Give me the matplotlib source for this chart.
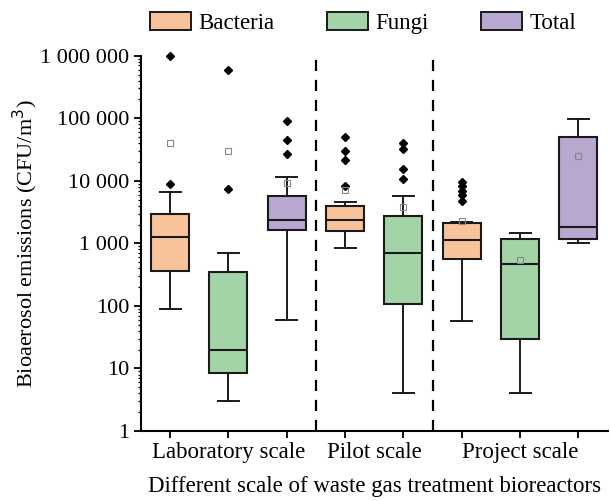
import matplotlib.pyplot as plt
from matplotlib.patches import Patch
from matplotlib.ticker import LogLocator, NullFormatter

plt.rcParams['font.family'] = ['Liberation Serif', 'DejaVu Serif']

# posiciones de las cajas (Pilot no tiene Total)
posiciones = [1, 2, 3, 4, 5, 6, 7, 8]
tipos = ['Bacteria', 'Fungi', 'Total', 'Bacteria', 'Fungi', 'Bacteria', 'Fungi', 'Total']

# estadisticos (CFU/m3)
bigote_inf = [90, 3, 59, 850, 4, 57, 4, 1000]
q1 = [365, 8.5, 1640, 1580, 108, 565, 30, 1180]
mediana = [1260, 20, 2380, 2400, 710, 1140, 475, 1840]
q3 = [3000, 345, 5700, 3900, 2700, 2150, 1170, 50000]
bigote_sup = [6600, 700, 11500, 4600, 5700, 2200, 1440, 98000]
media = [40000, 30000, 9200, 7100, 3800, 2300, 545, 25400]
atipicos = [
    [9000, 1000000],
    [7500, 590000],
    [27000, 45000, 89000],
    [8300, 21500, 29500, 50000],
    [10900, 15600, 32500, 40000],
    [4700, 6000, 7000, 8300, 9700],
    [],
    [],
]

grupos = ['Laboratory scale', 'Pilot scale', 'Project scale']
pos_grupos = [2, 4.5, 7]
separadores = [3.5, 5.5]

colores = {'Bacteria': '#F8C39B', 'Fungi': '#A2D4A8', 'Total': '#B8A7CF'}

fig = plt.figure(figsize=(6.1, 5.01), dpi=100)
ax = fig.add_axes([0.231, 0.1397, 0.765, 0.749])

stats = []
for i in range(len(posiciones)):
    stats.append({'whislo': bigote_inf[i], 'q1': q1[i], 'med': mediana[i],
                  'q3': q3[i], 'whishi': bigote_sup[i], 'mean': media[i],
                  'fliers': atipicos[i]})

bp = ax.bxp(stats, positions=posiciones, widths=0.65, capwidths=0.36,
            patch_artist=True, showmeans=True,
            boxprops=dict(edgecolor='#1a1a1a', linewidth=1.5),
            medianprops=dict(color='#1a1a1a', linewidth=1.5),
            whiskerprops=dict(color='#1a1a1a', linewidth=1.4),
            capprops=dict(color='#1a1a1a', linewidth=1.4),
            flierprops=dict(marker='D', markerfacecolor='black', markeredgecolor='black',
                            markersize=4),
            meanprops=dict(marker='s', markerfacecolor='none', markeredgecolor='#888888',
                           markersize=4.5, markeredgewidth=0.8))
for caja, t in zip(bp['boxes'], tipos):
    caja.set_facecolor(colores[t])
for f in bp['fliers']:
    f.set_clip_on(False)

for x in separadores:
    ax.axvline(x, ymax=0.995, color='black', linestyle=(0, (5, 4)), linewidth=1.6)

ax.set_yscale('log')
ax.set_ylim(1, 1e6)
ax.set_xlim(0.5, 8.5)
ax.set_yticks([1, 10, 100, 1000, 10000, 100000, 1000000])
ax.set_yticklabels(['1', '10', '100', '1 000', '10 000', '100 000', '1 000 000'])
ax.yaxis.set_minor_locator(LogLocator(base=10, subs=range(2, 10), numticks=20))
ax.yaxis.set_minor_formatter(NullFormatter())

ax.set_xticks(posiciones)
ax.set_xticklabels([])
for p, g in zip(pos_grupos, grupos):
    ax.text(p, -0.03, g, transform=ax.get_xaxis_transform(), ha='center', va='top',
            fontsize=16.5)

ax.spines['top'].set_visible(False)
ax.spines['right'].set_visible(False)
ax.spines['left'].set_linewidth(1.5)
ax.spines['bottom'].set_linewidth(1.5)
ax.tick_params(axis='both', which='major', direction='out', length=5, width=1.3,
               labelsize=16)
ax.tick_params(axis='y', which='minor', direction='out', length=2.5, width=0.9)

ax.set_ylabel('Bioaerosol emissions (CFU/m$^3$)', fontsize=16, labelpad=0)
ax.set_xlabel('Different scale of waste gas treatment bioreactors', fontsize=16.5,
              labelpad=24)

leyenda = [Patch(facecolor=colores[t], edgecolor='#1a1a1a', linewidth=1.4, label=t)
           for t in ['Bacteria', 'Fungi', 'Total']]
fig.legend(handles=leyenda, loc='center', bbox_to_anchor=(0.595, 0.955), ncol=3,
           frameon=False, fontsize=16.5, handlelength=1.8, handleheight=0.85,
           handletextpad=0.3, columnspacing=2.3)

fig.savefig('out.png', dpi=100)
